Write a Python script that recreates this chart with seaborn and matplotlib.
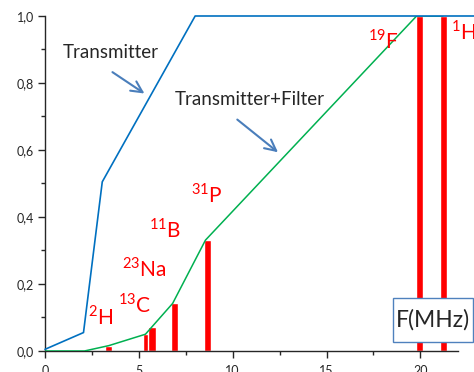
import numpy as np
import pandas as pd
import matplotlib
matplotlib.use("Agg")
import matplotlib.pyplot as plt
import seaborn as sns
from matplotlib.patches import Rectangle
from matplotlib.ticker import MultipleLocator, FuncFormatter

# transmitter response
tx_f = [0.0, 2.05, 3.05, 8.0, 23.5]
tx_a = [0.005, 0.055, 0.505, 1.0, 1.0]

# transmitter + filter response
tf_f = [0.0, 2.1, 3.4, 5.35, 6.8, 8.55, 19.8, 21.2]
tf_a = [0.0, 0.0, 0.016, 0.05, 0.142, 0.331, 1.0, 1.0]

# nuclei lines
nuclei = ["2H", "13C", "23Na", "11B", "31P", "19F", "1H"]
nuc_f = [3.38, 5.42, 5.71, 6.9, 8.67, 19.96, 21.23]
nuc_a = [0.015, 0.05, 0.071, 0.143, 0.331, 1.0, 1.0]

# label anchors (left, baseline)
lab_x = [2.29, 3.9, 4.09, 5.56, 7.77, 17.23, 21.65]
lab_y = [0.078, 0.114, 0.222, 0.340, 0.442, 0.904, 0.930]

sns.set_style("ticks")
plt.rcParams["font.family"] = ["Lato", "DejaVu Sans"]
plt.rcParams["mathtext.fontset"] = "custom"
plt.rcParams["mathtext.rm"] = "Lato"

fig = plt.figure(figsize=(4.74, 3.72), dpi=100)
ax = fig.add_axes([0.095, 0.0565, 0.871, 0.9005])

ax.bar(nuc_f, nuc_a, width=0.4, color="#ff0000", zorder=2)

df_tx = pd.DataFrame({"f": tx_f, "a": tx_a})
df_tf = pd.DataFrame({"f": tf_f, "a": tf_a})
sns.lineplot(data=df_tf, x="f", y="a", sort=False, estimator=None,
             color="#00b050", lw=1.1, ax=ax, zorder=3)
sns.lineplot(data=df_tx, x="f", y="a", sort=False, estimator=None,
             color="#0070c0", lw=1.2, ax=ax, zorder=4, clip_on=False)

for name, x, y in zip(nuclei, lab_x, lab_y):
    num = name.rstrip("HCNaBPF")
    sym = name[len(num):]
    ax.text(x, y, r"$^{\mathregular{" + num + "}}$" + sym, color="#ff0000",
            fontsize=15, ha="left", va="baseline", clip_on=False)

ax.text(0.94, 0.89, "Transmitter", fontsize=13.5, ha="left", va="center")
ax.text(6.93, 0.751, "Transmitter+Filter", fontsize=13.5, ha="left", va="center")
arrow = dict(arrowstyle="->", color="#4a7ebb", lw=1.5, mutation_scale=20)
ax.annotate("", xy=(5.42, 0.764), xytext=(3.47, 0.837), arrowprops=arrow)
ax.annotate("", xy=(12.53, 0.588), xytext=(10.13, 0.696), arrowprops=arrow)

ax.set_xlim(0, 22)
ax.set_ylim(0, 1.0)
ax.set_xlabel("")
ax.set_ylabel("")
ax.xaxis.set_major_locator(MultipleLocator(5))
ax.xaxis.set_minor_locator(MultipleLocator(2.5))
ax.yaxis.set_major_locator(MultipleLocator(0.2))
ax.yaxis.set_minor_locator(MultipleLocator(0.1))
ax.yaxis.set_major_formatter(FuncFormatter(lambda v, p: f"{v:.1f}".replace(".", ",")))
ax.tick_params(which="major", length=5, width=1, labelsize=9, pad=3)
ax.tick_params(axis="x", which="major", pad=5)
ax.tick_params(which="minor", length=3, width=1)
for s in ["top", "right"]:
    ax.spines[s].set_visible(False)
for s in ["left", "bottom"]:
    ax.spines[s].set_linewidth(1.0)

fig.add_artist(Rectangle((0.8285, 0.0815), 0.1694, 0.1175, transform=fig.transFigure,
                         facecolor="white", edgecolor="#4f81bd", lw=1.0, zorder=5))
fig.text(0.913, 0.140, "F(MHz)", fontsize=16.5, ha="center", va="center", zorder=6)

fig.savefig("out.png", dpi=100)
